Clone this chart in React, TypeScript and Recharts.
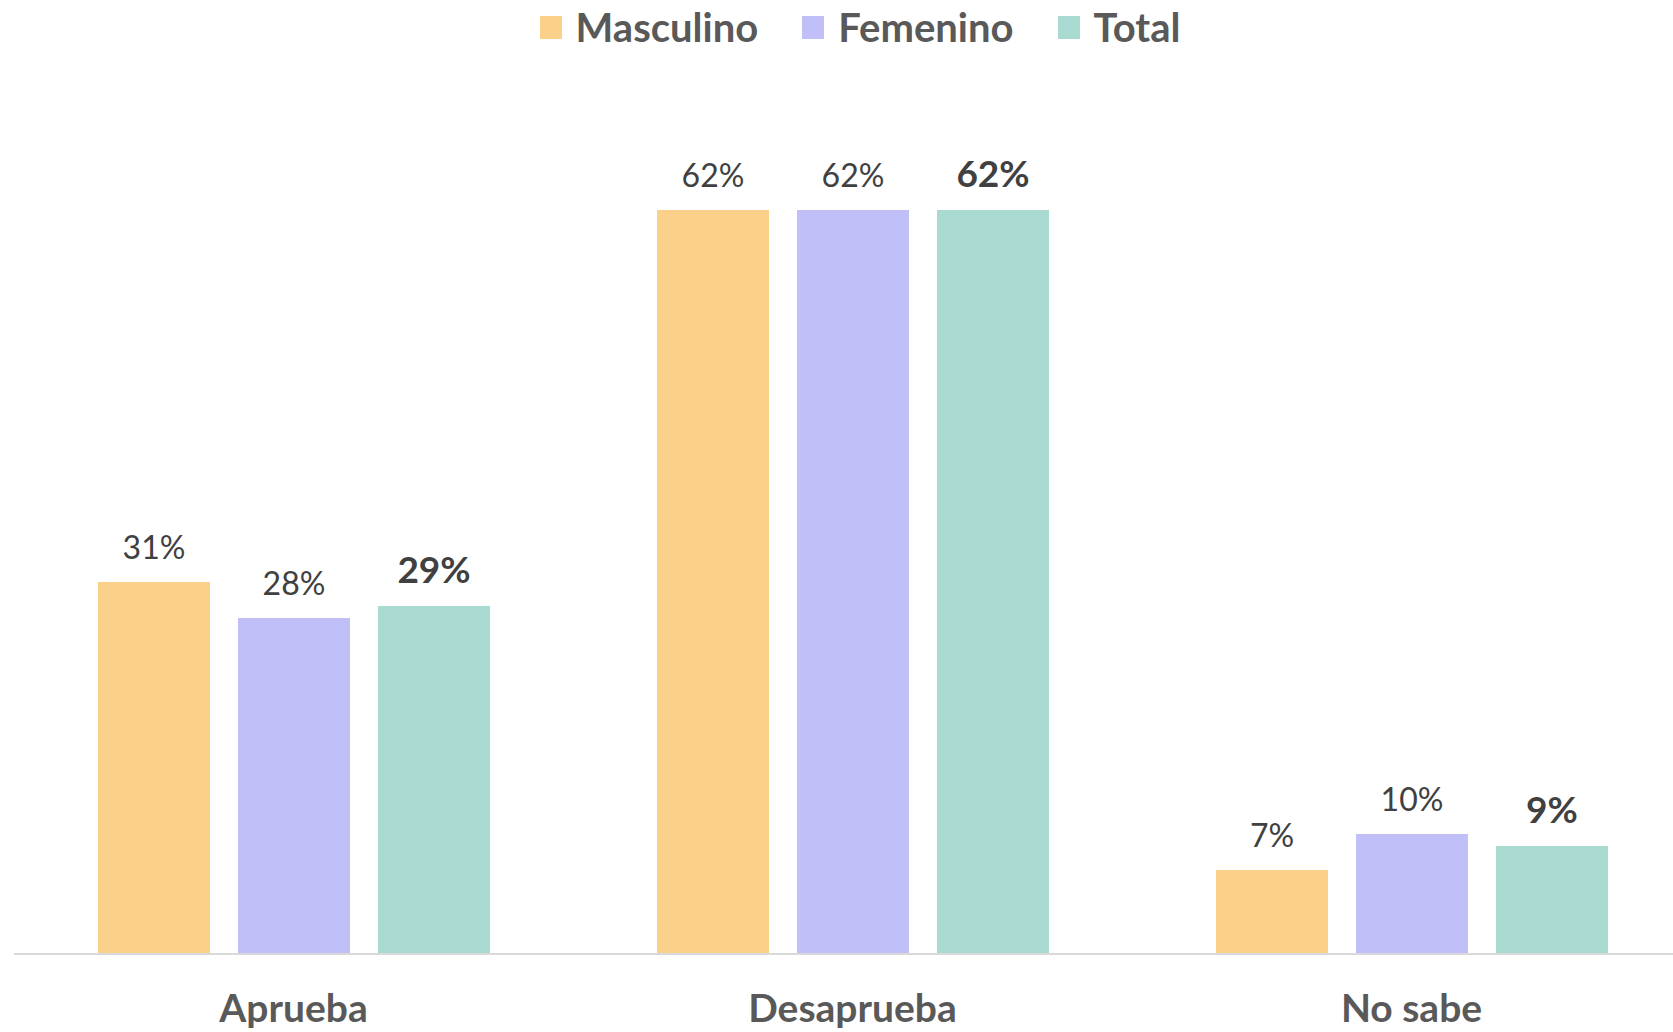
import React from 'react';
import { BarChart, Bar, XAxis, YAxis, Legend, LabelList } from 'recharts';

const categories = ['Aprueba', 'Desaprueba', 'No sabe'];
const masculino = [31, 62, 7];
const femenino = [28, 62, 10];
const total = [29, 62, 9];

const seriesInfo = [
  { key: 'Masculino', color: '#FAD08A', bold: false },
  { key: 'Femenino', color: '#C0BFF8', bold: false },
  { key: 'Total', color: '#A9DBD3', bold: true },
];

const data = categories.map((name, i) => ({
  name,
  Masculino: masculino[i],
  Femenino: femenino[i],
  Total: total[i],
}));

const FONT = 'Lato, "Open Sans", sans-serif';

const makeLabel = (bold: boolean) => (props: any) => {
  const { x, y, width, value } = props;
  return (
    <text
      x={Number(x) + Number(width) / 2}
      y={Number(y) - 23}
      textAnchor="middle"
      fontFamily={FONT}
      fontSize={bold ? 37 : 32}
      fontWeight={bold ? 700 : 400}
      fill="#404040"
    >
      {`${value}%`}
    </text>
  );
};

const CategoryTick = (props: any) => {
  const { x, y, payload } = props;
  return (
    <text x={x} y={y} dy={68} textAnchor="middle" fontFamily={FONT} fontSize={39} fontWeight={700} fill="#595959">
      {payload.value}
    </text>
  );
};

const LegendContent = () => (
  <div style={{ display: 'flex', justifyContent: 'center', alignItems: 'center', height: 50 }}>
    {seriesInfo.map((s, i) => (
      <div key={s.key} style={{ display: 'flex', alignItems: 'center', marginLeft: i === 0 ? 0 : 44 }}>
        <span style={{ width: 22, height: 23, backgroundColor: s.color, marginRight: 14, display: 'inline-block' }} />
        <span style={{ fontFamily: FONT, fontSize: 40, fontWeight: 700, color: '#595959' }}>{s.key}</span>
      </div>
    ))}
  </div>
);

export default function App() {
  return (
    <div style={{ position: 'fixed', left: 0, top: 0, width: 1673, height: 1032, overflow: 'hidden', background: '#fff' }}>
      <BarChart
        width={1700}
        height={1032}
        data={data}
        margin={{ top: 64, right: 9, left: 14, bottom: 0 }}
        barGap={28}
        barSize={112}
      >
        <XAxis
          dataKey="name"
          height={78}
          tickSize={0}
          tickMargin={0}
          tickLine={false}
          axisLine={{ stroke: '#D9D9D9', strokeWidth: 2 }}
          tick={<CategoryTick />}
          interval={0}
        />
        <YAxis hide domain={[0, 70]} />
        <Legend verticalAlign="top" wrapperStyle={{ top: 2, left: 0, width: 1720 }} content={<LegendContent />} />
        {seriesInfo.map(s => (
          <Bar key={s.key} dataKey={s.key} fill={s.color} isAnimationActive={false}>
            <LabelList dataKey={s.key} content={makeLabel(s.bold)} />
          </Bar>
        ))}
      </BarChart>
    </div>
  );
}
